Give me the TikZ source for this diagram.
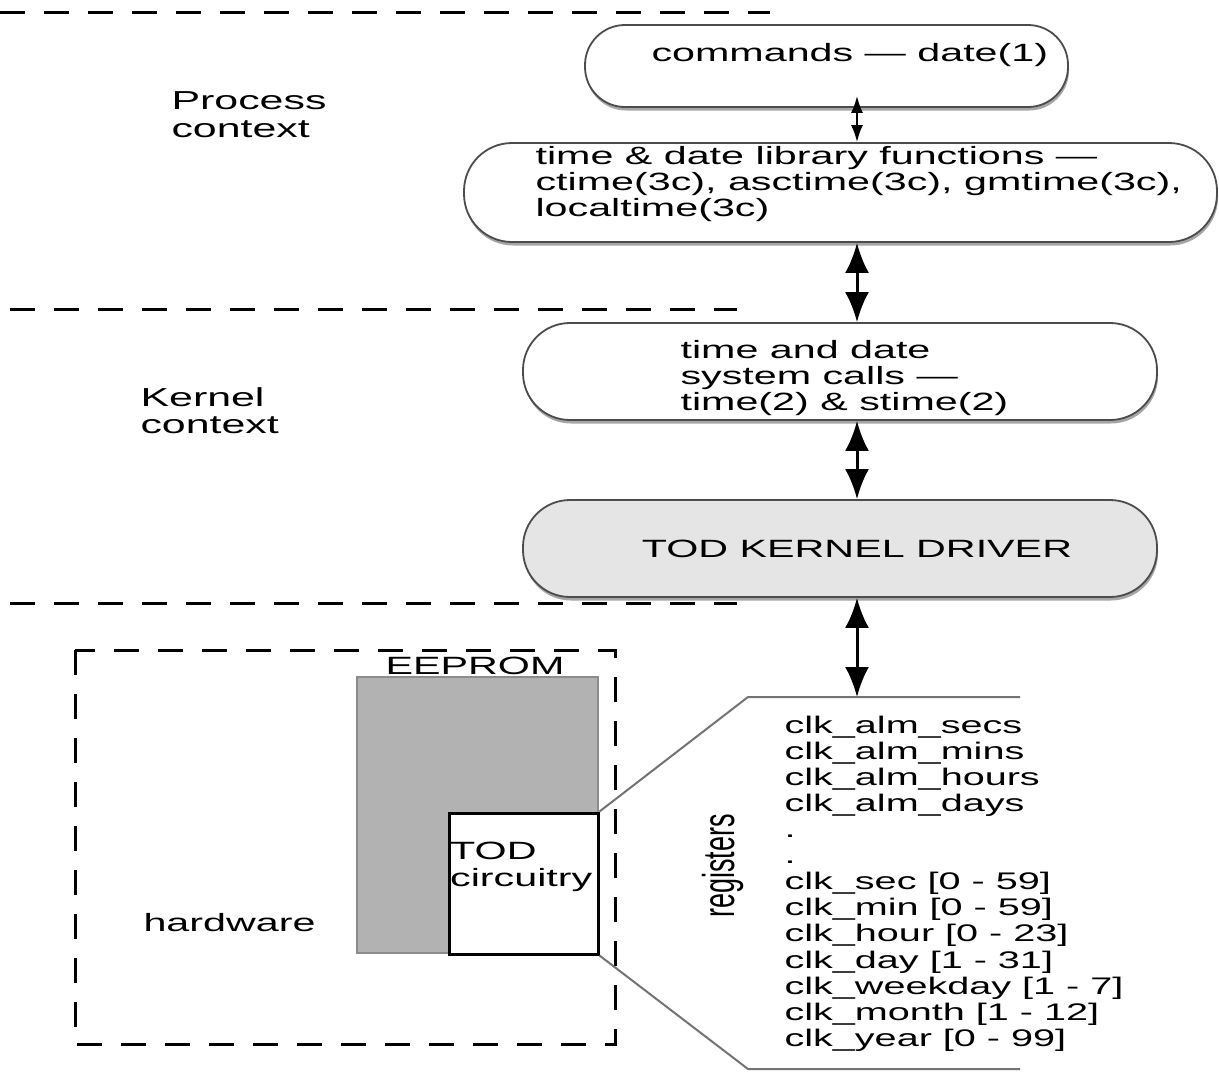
\documentclass[tikz,border=0pt]{standalone}
\usepackage{fontspec}
\usepackage{graphicx}
\setmainfont{Liberation Sans}[FakeStretch=1.65]
\newfontfamily\plainsans{Liberation Sans}
\usetikzlibrary{arrows.meta, shadows}

\begin{document}
\begin{tikzpicture}[x=1pt, y=-1pt,
    font=\fontsize{25}{26.3}\selectfont,
    ctxline/.style={line width=3pt, dash pattern=on 25pt off 19pt},
    pill/.style={draw=black!70, line width=1.8pt, fill=white, inner sep=0pt,
        drop shadow={shadow xshift=1pt, shadow yshift=-3.5pt, fill=black!35, opacity=1}},
    biarrow/.style={line width=3pt, {Latex[length=30pt,width=24pt]}-{Latex[length=30pt,width=24pt]}},
    smallarrow/.style={line width=2pt, {Latex[length=17pt,width=12pt]}-{Latex[length=17pt,width=12pt]}},
    zoomline/.style={draw=black!55, line width=2pt}]
\useasboundingbox (0,0) rectangle (1219,1072);

\foreach \y/\xa/\xb in {12/0/770, 309/10/737, 603/10/737}
    \draw[ctxline] (\xa,\y) -- (\xb,\y);

\node[anchor=west, align=left, font=\fontsize{26}{28}\selectfont] (proc) at (168,115) {Process\\context};
\node[anchor=west, align=left, font=\fontsize{26}{27}\selectfont] (kern) at (137,411) {Kernel\\context};

\coordinate (axis) at (857,0);

\node[pill, minimum width=483pt, minimum height=82pt, rounded corners=40pt] (cmd) at (826.5,66) {};
\node[anchor=west] (cmdtxt) at (648,55) {commands — date(1)};

\node[pill, minimum width=753pt, minimum height=99pt, rounded corners=48pt] (lib) at (840.5,192.5) {};
\node[anchor=west, align=left] (libtxt) at (532,184) {time \& date library functions —\\ctime(3c), asctime(3c), gmtime(3c),\\localtime(3c)};

\node[pill, minimum width=634pt, minimum height=97pt, rounded corners=47pt] (sys) at (840,371.5) {};
\node[anchor=west, align=left] (systxt) at (677,378) {time and date\\system calls —\\time(2) \& stime(2)};

\node[pill, fill=black!10, minimum width=634pt, minimum height=97pt, rounded corners=47pt] (drv) at (840,548.5) {};
\node (drvtxt) at (857,549) {TOD KERNEL DRIVER};

\coordinate (cmdfoot) at ([yshift=12pt]cmd.south);
\coordinate (regtl) at (748,697);
\coordinate (regtr) at (1020,697);
\coordinate (regbl) at (748,1069);
\coordinate (regbr) at (1020,1069);

\draw[smallarrow] (cmdfoot -| axis) -- (lib.north -| axis);
\draw[biarrow] (lib.south -| axis) -- (sys.north -| axis);
\draw[biarrow] (sys.south -| axis) -- (drv.north -| axis);
\draw[biarrow] (drv.south -| axis) -- (regtl -| axis);

\draw[ctxline] (75,650) rectangle (615,1044);
\node[draw=black!45, line width=2pt, fill=black!30, minimum width=241pt, minimum height=276pt, inner sep=0pt] (eeprom) at (477.5,815) {};
\node (eepromtxt) at (475,666) {EEPROM};
\node[draw, line width=3pt, fill=white, minimum width=149pt, minimum height=141pt, inner sep=0pt] (todbox) at (523.5,883.5) {};
\node[anchor=west, align=left, inner sep=1pt] (todtxt) at (449,867) {TOD\\circuitry};
\node[anchor=west] (hw) at (140,923) {hardware};

\draw[zoomline] (todbox.north east) -- (regtl) -- (regtr);
\draw[zoomline] (todbox.south east) -- (regbl) -- (regbr);

\node[rotate=90, font=\plainsans\fontsize{27}{27}\selectfont] (reglabel) at (723,866) {\scalebox{1}[1.65]{registers}};
\node[anchor=west, align=left, font=\fontsize{24}{26.1}\selectfont] (regs) at (781,883.5) {clk\_alm\_secs\\clk\_alm\_mins\\clk\_alm\_hours\\clk\_alm\_days\\.\\.\\clk\_sec [0 - 59]\\clk\_min [0 - 59]\\clk\_hour [0 - 23]\\clk\_day [1 - 31]\\clk\_weekday [1 - 7]\\clk\_month [1 - 12]\\clk\_year [0 - 99]};
\end{tikzpicture}
\end{document}
